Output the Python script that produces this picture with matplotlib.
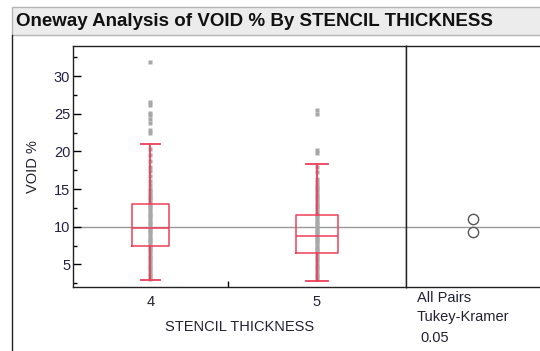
import matplotlib
matplotlib.use('Agg')
from matplotlib import pyplot as plt
from matplotlib.patches import Rectangle
from matplotlib.lines import Line2D
from matplotlib.ticker import MultipleLocator

plt.rcParams['font.family'] = ['Liberation Sans', 'DejaVu Sans']

'''数据'''
thickness = ['4', '5']
# category widths on the x axis (JMP makes them proportional to group size)
cat_widths = [1.0, 1.15]

whis_lo = [2.9, 2.75]
q1 = [7.45, 6.45]
median = [9.85, 8.75]
q3 = [13.0, 11.6]
whis_hi = [21.0, 18.3]
outliers_4 = [22.4, 22.8, 23.8, 24.3, 24.8, 25.1, 26.2, 26.6, 31.9]
outliers_5 = [19.8, 20.2, 25.0, 25.5]

# raw points inside the whiskers (dense gray column)
points_4 = [3.0, 3.3, 3.6, 3.9, 4.2, 4.5, 4.8, 5.1, 5.4, 5.7, 6.0, 6.3, 6.6, 6.9,
            7.2, 7.5, 7.8, 8.1, 8.4, 8.7, 9.0, 9.3, 9.6, 9.9, 10.2, 10.5, 10.8,
            11.1, 11.4, 11.7, 12.0, 12.3, 12.6, 12.9, 13.2, 13.5, 13.8, 14.1,
            14.4, 14.7, 15.0, 15.6, 16.1, 16.8, 17.4, 18.0, 18.7, 19.5, 20.3]
points_5 = [3.0, 3.3, 3.6, 3.9, 4.2, 4.5, 4.8, 5.1, 5.4, 5.7, 6.0, 6.3, 6.6, 6.9,
            7.2, 7.5, 7.8, 8.1, 8.4, 8.7, 9.0, 9.3, 9.6, 9.9, 10.2, 10.5, 10.8,
            11.1, 11.4, 11.7, 12.0, 12.3, 12.6, 12.9, 13.2, 13.5, 13.8, 14.1,
            14.4, 14.7, 15.0, 15.3, 15.6, 15.9, 16.3, 17.3, 17.9]

group_means = [10.98, 9.26]
grand_mean = 10.0

'''绘制图形'''
fig = plt.figure(figsize=(5.4, 3.51), dpi=100)
W, H = 540.0, 351.0
fs = 10.5
txt = '#222233'

# title bar and frame
fig.add_artist(Rectangle((12 / W, 1 - 35 / H), 1, 28 / H, transform=fig.transFigure,
                         facecolor='#ececec', edgecolor='#b4b4b4', lw=1))
fig.add_artist(Line2D([12 / W, 12 / W], [0, 1 - 35 / H], transform=fig.transFigure,
                      color='#222222', lw=1))
fig.text(16 / W, 1 - 21 / H, 'Oneway Analysis of VOID % By STENCIL THICKNESS',
         fontsize=13.5, fontweight='bold', color='#111111', va='center', ha='left')

bottom, top = 287, 46
ax = fig.add_axes([73 / W, 1 - bottom / H, (406 - 73) / W, (bottom - top) / H])
ax2 = fig.add_axes([406 / W, 1 - bottom / H, (W - 406) / W, (bottom - top) / H])

edges = [0, cat_widths[0], cat_widths[0] + cat_widths[1]]
centers = [(edges[i] + edges[i + 1]) / 2 for i in range(2)]
red = '#ee4058'

ax.axhline(grand_mean, color='#999999', lw=1, zorder=1)
ax2.axhline(grand_mean, color='#999999', lw=1, zorder=1)

for i, pts in enumerate([points_4 + outliers_4, points_5 + outliers_5]):
    ax.plot([centers[i]] * len(pts), pts, 's', ms=2.4, color='#a8a8a8', mec='none', zorder=2)

stats = []
for i in range(2):
    stats.append(dict(whislo=whis_lo[i], q1=q1[i], med=median[i], q3=q3[i],
                      whishi=whis_hi[i], fliers=[], label=thickness[i]))
ax.bxp(stats, positions=centers, widths=[0.25 * cat_widths[0] - 0.01, 0.24 * cat_widths[1]],
       showfliers=False, manage_ticks=False,
       boxprops=dict(color=red, lw=1.1), medianprops=dict(color=red, lw=1.1),
       whiskerprops=dict(color=red, lw=1.3), capprops=dict(color=red, lw=1.3),
       zorder=3)

ax.set_xlim(edges[0], edges[2])
ax.set_ylim(2.0, 34.0)
ax2.set_ylim(2.0, 34.0)
ax2.set_xlim(0, 1)

ax.yaxis.set_major_locator(MultipleLocator(5))
ax.yaxis.set_minor_locator(MultipleLocator(2.5))
ax.set_xticks(centers)
ax.set_xticklabels(thickness)
ax.set_xticks([edges[1]], minor=True)
ax.tick_params(axis='x', which='major', length=0, pad=6, labelsize=fs, labelcolor=txt)
ax.tick_params(axis='x', which='minor', direction='in', length=4, width=1)
ax.tick_params(axis='y', which='major', direction='in', length=6, width=1, pad=2,
               labelsize=fs, labelcolor='#222244')
ax.tick_params(axis='y', which='minor', direction='in', length=3, width=1)
ax.set_ylabel('VOID %', fontsize=fs, color=txt, labelpad=10)
ax.set_xlabel('STENCIL THICKNESS', fontsize=fs, color=txt, labelpad=8)

for a in (ax, ax2):
    for s in a.spines.values():
        s.set_color('#222222')
        s.set_linewidth(1)
ax2.spines['right'].set_visible(False)
ax2.set_xticks([])
ax2.set_yticks([])

# comparison circles
ax2.scatter([0.5, 0.5], group_means, s=55, facecolors='white', edgecolors='#555555', lw=1, zorder=3)

fig.text(417 / W, 1 - 298 / H, 'All Pairs', fontsize=fs, color=txt, va='center')
fig.text(417 / W, 1 - 317 / H, 'Tukey-Kramer', fontsize=fs, color=txt, va='center')
fig.text(420 / W, 1 - 338 / H, '0.05', fontsize=fs, color=txt, va='center')

fig.savefig('out.png', dpi=100)
